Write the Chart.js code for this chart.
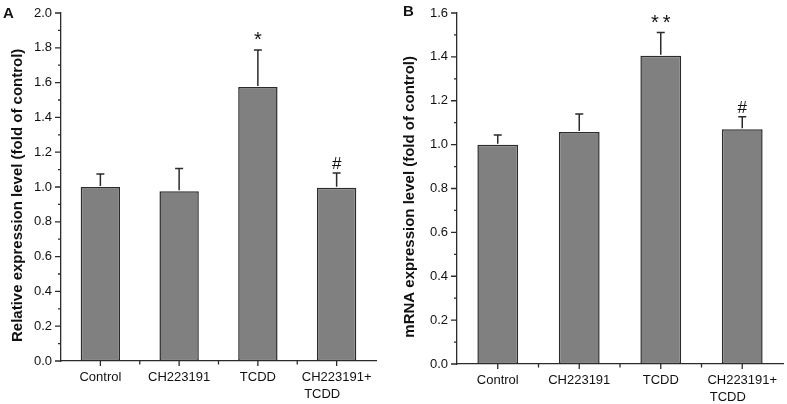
<!DOCTYPE html>
<html>
<head>
<meta charset="utf-8">
<script src="https://cdn.jsdelivr.net/npm/chart.js@4.4.1/dist/chart.umd.min.js"></script>
<style>
  body { margin: 0; background: #fff; width: 787px; height: 404px; overflow: hidden; position: relative; }
  .panel { position: absolute; top: 0; height: 404px; }
  .tag { position: absolute; font: bold 15px/15px "Liberation Sans", Arial, sans-serif; color: #111; }
</style>
</head>
<body>
<div class="panel" style="left:0;width:393px"><canvas id="chartA"></canvas></div>
<div class="panel" style="left:393px;width:394px"><canvas id="chartB"></canvas></div>
<div class="tag" style="left:3px;top:5px">A</div>
<div class="tag" style="left:403px;top:3px">B</div>
<script>
// categorías y valores
const categories = ['Control', 'CH223191', 'TCDD', ['CH223191+', 'TCDD']];

const meansA = [1.00, 0.975, 1.575, 0.995];
const errorsA = [0.075, 0.132, 0.213, 0.085];
const marksA = ['', '', '*', '#'];
const yMaxA = 2.0;

const meansB = [1.00, 1.057, 1.405, 1.07];
const errorsB = [0.044, 0.083, 0.106, 0.057];
const marksB = ['', '', '**', '#'];
const yMaxB = 1.6;

const FONT = '"Liberation Sans", Arial, sans-serif';
const INK = '#2b2b2b';

// marcas de los ejes (mayores y menores) dibujadas a mano
const tickMarks = {
    id: 'tickMarks',
    afterDraw(chart) {
        const ctx = chart.ctx;
        const x = chart.scales.x, y = chart.scales.y;
        ctx.save();
        ctx.strokeStyle = INK;
        ctx.lineWidth = 1.3;
        ctx.beginPath();
        const steps = Math.round(y.max / 0.1);
        for (let i = 0; i <= steps; i++) {
            const py = y.getPixelForValue(i * 0.1);
            const len = i % 2 === 0 ? 6 : 3;
            ctx.moveTo(x.left, py);
            ctx.lineTo(x.left - len, py);
        }
        const n = chart.data.labels.length;
        for (let i = 0; i < n; i++) {
            const px = x.getPixelForValue(i);
            ctx.moveTo(px, y.bottom);
            ctx.lineTo(px, y.bottom + 5);
            if (i < n - 1) {
                const mid = (px + x.getPixelForValue(i + 1)) / 2;
                ctx.moveTo(mid, y.bottom);
                ctx.lineTo(mid, y.bottom + 3.5);
            }
        }
        ctx.stroke();
        ctx.restore();
    }
};

// barras de error y símbolos de significancia
const errorBars = {
    id: 'errorBars',
    afterDatasetsDraw(chart) {
        const ctx = chart.ctx;
        const x = chart.scales.x, y = chart.scales.y;
        const ds = chart.data.datasets[0];
        ctx.save();
        ctx.strokeStyle = INK;
        ctx.lineWidth = 1.5;
        ds.data.forEach((v, i) => {
            const px = x.getPixelForValue(i);
            const top = y.getPixelForValue(v + ds.errors[i]);
            ctx.beginPath();
            ctx.moveTo(px, y.getPixelForValue(v) - 1);
            ctx.lineTo(px, top);
            ctx.moveTo(px - 4, top);
            ctx.lineTo(px + 4, top);
            ctx.stroke();
            const m = ds.marks[i];
            if (m) {
                ctx.fillStyle = '#111';
                ctx.textAlign = 'center';
                ctx.textBaseline = 'alphabetic';
                let dx = 0, lift = 4;
                if (m[0] === '*') {
                    ctx.font = '20px ' + FONT;
                } else {
                    ctx.font = '17px ' + FONT;
                }
                if (m.length > 1) { ctx.letterSpacing = '4px'; dx = 2; } else { ctx.letterSpacing = '0px'; }
                ctx.fillText(m, px + dx, top - lift);
            }
        });
        ctx.restore();
    }
};

function makeChart(id, means, errors, marks, yMax, title, pad, yWidth, xHeight) {
    return new Chart(document.getElementById(id), {
        type: 'bar',
        data: {
            labels: categories,
            datasets: [{
                data: means,
                errors: errors,
                marks: marks,
                backgroundColor: '#808080',
                borderColor: INK,
                borderWidth: 1.5,
                borderSkipped: false,
                barPercentage: 0.5,
                categoryPercentage: 1.0
            }]
        },
        options: {
            responsive: true,
            maintainAspectRatio: false,
            animation: false,
            layout: { padding: pad },
            plugins: { legend: { display: false }, tooltip: { enabled: false } },
            scales: {
                x: {
                    offset: true,
                    grid: { display: false, drawTicks: false },
                    border: { color: INK, width: 1.3 },
                    ticks: {
                        color: '#111',
                        font: { family: FONT, size: 13, lineHeight: 1.3 },
                        padding: 8,
                        maxRotation: 0,
                        autoSkip: false,
                        callback: function (value) {
                            const l = this.getLabelForValue(value);
                            return Array.isArray(l) ? [l[0], l[1] + '        '] : l;
                        }
                    },
                    afterFit: s => { s.height = xHeight; s.paddingLeft = 0; s.paddingRight = 0; }
                },
                y: {
                    min: 0,
                    max: yMax,
                    grid: { display: false, drawTicks: false },
                    border: { color: INK, width: 1.3 },
                    ticks: {
                        stepSize: 0.2,
                        color: '#111',
                        font: { family: FONT, size: 13 },
                        padding: 9,
                        callback: v => v.toFixed(1)
                    },
                    title: {
                        display: true,
                        text: title + '    ',
                        color: '#111',
                        font: { family: FONT, size: 15, weight: 'bold' },
                        padding: { top: 4, bottom: 0 }
                    },
                    afterFit: s => { s.width = yWidth; s.paddingTop = 0; s.paddingBottom = 0; }
                }
            }
        },
        plugins: [errorBars, tickMarks]
    });
}

makeChart('chartA', meansA, errorsA, marksA, yMaxA, 'Relative expression level (fold of control)',
    { left: 5, right: 17, top: 13, bottom: 0 }, 56, 43);
makeChart('chartB', meansB, errorsB, marksB, yMaxB, 'mRNA expression level (fold of control)',
    { left: 4, right: 4, top: 13, bottom: 0 }, 60, 40);
</script>
</body>
</html>
